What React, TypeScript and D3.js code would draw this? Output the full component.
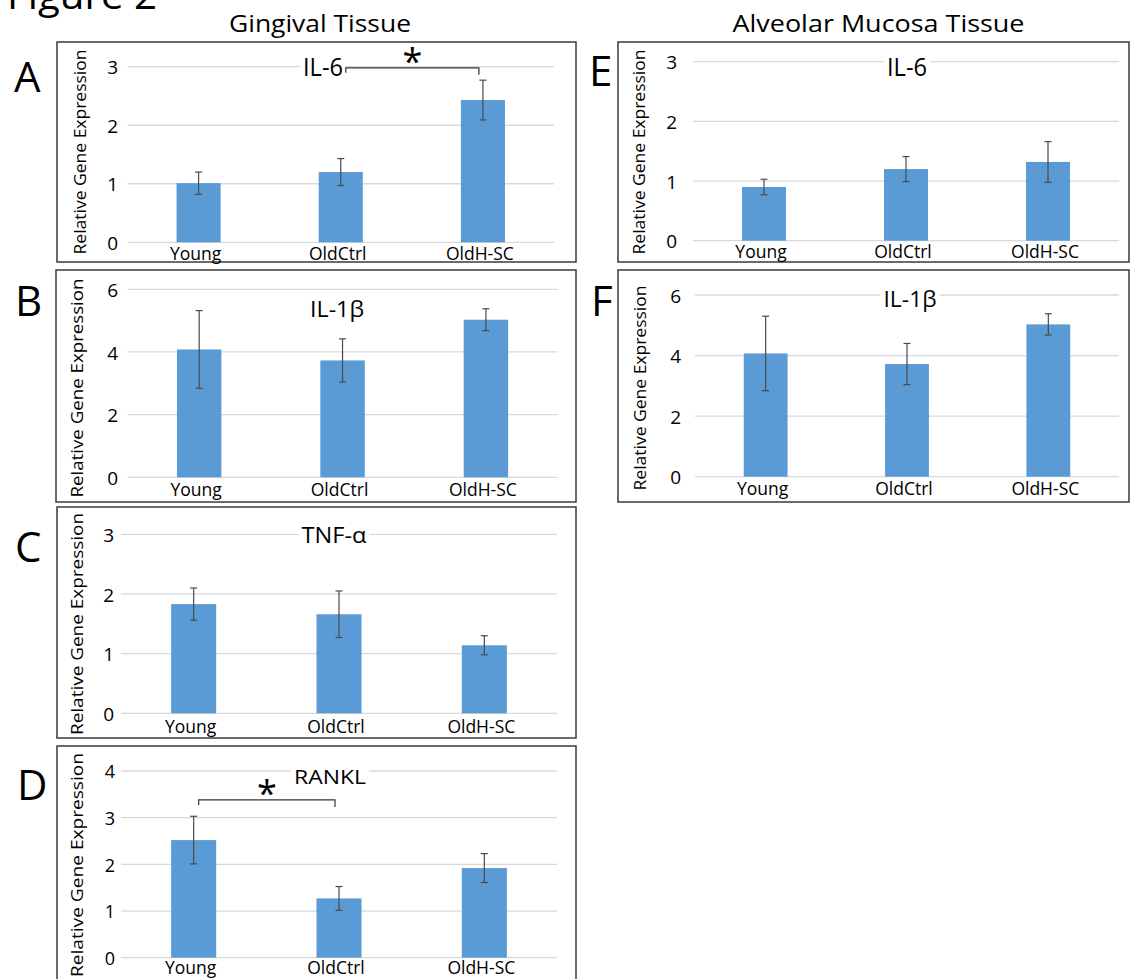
import React, { useEffect, useRef } from "react";
import * as d3 from "d3";

// ---------- data ----------
const categories = ["Young", "OldCtrl", "OldH-SC"];

const gingivalIL6 = [1.01, 1.2, 2.43];
const gingivalIL6Err = [0.19, 0.23, 0.34];
const gingivalIL1b = [4.08, 3.73, 5.03];
const gingivalIL1bErr = [1.24, 0.69, 0.35];
const gingivalTNFa = [1.83, 1.66, 1.14];
const gingivalTNFaErr = [0.27, 0.39, 0.16];
const gingivalRANKL = [2.52, 1.27, 1.92];
const gingivalRANKLErr = [0.51, 0.255, 0.31];
const alveolarIL6 = [0.9, 1.2, 1.32];
const alveolarIL6Err = [0.13, 0.21, 0.34];
const alveolarIL1b = [4.07, 3.72, 5.03];
const alveolarIL1bErr = [1.23, 0.68, 0.35];

const ticksIL6 = [0, 1, 2, 3];
const ticksIL1b = [0, 2, 4, 6];
const ticksTNF = [0, 1, 2, 3];
const ticksRANKL = [0, 1, 2, 3, 4];

const sectionTitles = ["Gingival Tissue", "Alveolar Mucosa Tissue"];
const figureTitle = "Figure 2";
const yAxisTitle = "Relative Gene Expression";
const sigIL6Gingival = { from: 1, to: 2, level: 2.98, mark: "*" };
const sigRANKL = { from: 0, to: 1, level: 3.38, mark: "*" };

const FONT = "'Open Sans', Lato, sans-serif";
const BAR = "#5B9BD5";
const INK = "#000";

type Panel = {
  letter: string;
  title: string;
  values: number[];
  errs: number[];
  ticks: number[];
  box: [number, number, number, number];
  plot: [number, number, number, number]; // x0, x1, yBase, yTop
  tickEnd: number;
  tickSize: number;
  labelBase: number;
  yTitle: [number, number, number];
  letterPos: [number, number];
  titlePos: [number, number, number, number]; // cx, baseline, size, len
  sig?: { from: number; to: number; level: number; mark: string };
};

const panels: Panel[] = [
  {
    letter: "A", title: "IL-6", values: gingivalIL6, errs: gingivalIL6Err, ticks: ticksIL6,
    box: [57, 42, 576, 262], plot: [127.5, 554, 242.3, 66.7], tickEnd: 118, tickSize: 19,
    labelBase: 260, yTitle: [80, 152, 205], letterPos: [14, 92], titlePos: [323, 76, 25, 40],
    sig: sigIL6Gingival,
  },
  {
    letter: "B", title: "IL-1β", values: gingivalIL1b, errs: gingivalIL1bErr, ticks: ticksIL1b,
    box: [56, 270, 576, 502], plot: [127.5, 557.6, 477.3, 289.3], tickEnd: 118, tickSize: 19,
    labelBase: 496, yTitle: [77, 388, 219], letterPos: [15, 316], titlePos: [337, 317, 22, 54],
  },
  {
    letter: "C", title: "TNF-α", values: gingivalTNFa, errs: gingivalTNFaErr, ticks: ticksTNF,
    box: [57, 507, 576, 738], plot: [121, 557, 713.3, 534.3], tickEnd: 114, tickSize: 19,
    labelBase: 733, yTitle: [77, 624, 222], letterPos: [15, 562], titlePos: [334, 543, 21, 65],
  },
  {
    letter: "D", title: "RANKL", values: gingivalRANKL, errs: gingivalRANKLErr, ticks: ticksRANKL,
    box: [57, 746, 576, 1000], plot: [121, 557, 957.7, 771], tickEnd: 115, tickSize: 18,
    labelBase: 974, yTitle: [77, 865, 224], letterPos: [17, 800], titlePos: [330, 784, 20, 72],
    sig: sigRANKL,
  },
  {
    letter: "E", title: "IL-6", values: alveolarIL6, errs: alveolarIL6Err, ticks: ticksIL6,
    box: [618, 42, 1129, 262], plot: [693, 1119, 240.7, 61.7], tickEnd: 677, tickSize: 19,
    labelBase: 258, yTitle: [639, 152, 205], letterPos: [589, 86], titlePos: [907, 76, 25, 40],
  },
  {
    letter: "F", title: "IL-1β", values: alveolarIL1b, errs: alveolarIL1bErr, ticks: ticksIL1b,
    box: [618, 270, 1129, 502], plot: [695, 1119, 476.7, 295], tickEnd: 681, tickSize: 19,
    labelBase: 495, yTitle: [640, 388, 205], letterPos: [591, 316], titlePos: [910, 307, 21, 53],
  },
];

export default function App() {
  const ref = useRef<SVGSVGElement | null>(null);

  useEffect(() => {
    const svg = d3.select(ref.current);
    svg.selectAll("*").remove();

    // figure title (cut at top edge, as in the reference)
    svg.append("text").attr("x", 157).attr("y", 9).attr("text-anchor", "end")
      .attr("font-family", FONT).attr("font-size", 38).attr("fill", INK)
      .attr("textLength", 150).attr("lengthAdjust", "spacingAndGlyphs").text(figureTitle);

    // section titles
    svg.append("text").attr("x", 320).attr("y", 32).attr("text-anchor", "middle")
      .attr("font-family", FONT).attr("font-size", 24).attr("fill", INK)
      .attr("textLength", 182).attr("lengthAdjust", "spacingAndGlyphs").text(sectionTitles[0]);
    svg.append("text").attr("x", 878.5).attr("y", 32).attr("text-anchor", "middle")
      .attr("font-family", FONT).attr("font-size", 24).attr("fill", INK)
      .attr("textLength", 292).attr("lengthAdjust", "spacingAndGlyphs").text(sectionTitles[1]);

    panels.forEach((p) => {
      const g = svg.append("g");
      const [bx0, by0, bx1, by1] = p.box;
      const [px0, px1, yBase, yTop] = p.plot;
      const x = d3.scaleBand<string>().domain(categories).range([px0, px1])
        .paddingInner(0.69).paddingOuter(0.345);
      const y = d3.scaleLinear().domain([0, p.ticks[p.ticks.length - 1]]).range([yBase, yTop]);

      // frame
      g.append("rect").attr("x", bx0).attr("y", by0).attr("width", bx1 - bx0).attr("height", by1 - by0)
        .attr("fill", "white").attr("stroke", "#3a3a3a").attr("stroke-width", 1.5);

      // gridlines
      g.selectAll(".grid").data(p.ticks).join("line")
        .attr("x1", px0).attr("x2", px1)
        .attr("y1", (d) => y(d)).attr("y2", (d) => y(d))
        .attr("stroke", "#d9d9d9").attr("stroke-width", 1.3);

      // tick labels
      g.selectAll(".tick").data(p.ticks).join("text")
        .attr("x", p.tickEnd).attr("y", (d) => y(d) + p.tickSize * 0.4)
        .attr("text-anchor", "end").attr("font-family", FONT).attr("font-size", p.tickSize)
        .attr("fill", INK).text((d) => String(d));

      // bars
      g.selectAll(".bar").data(p.values).join("rect")
        .attr("x", (_, i) => x(categories[i])!)
        .attr("width", x.bandwidth())
        .attr("y", (d) => y(d))
        .attr("height", (d) => yBase - y(d))
        .attr("fill", BAR);

      // error bars
      p.values.forEach((v, i) => {
        const cx = x(categories[i])! + x.bandwidth() / 2;
        const hi = y(v + p.errs[i]);
        const lo = y(v - p.errs[i]);
        const eg = g.append("g").attr("stroke", "#4a4a4a").attr("stroke-width", 1.2);
        eg.append("line").attr("x1", cx).attr("x2", cx).attr("y1", hi).attr("y2", lo);
        eg.append("line").attr("x1", cx - 3.5).attr("x2", cx + 3.5).attr("y1", hi).attr("y2", hi);
        eg.append("line").attr("x1", cx - 3.5).attr("x2", cx + 3.5).attr("y1", lo).attr("y2", lo);
      });

      // category labels
      g.selectAll(".cat").data(categories).join("text")
        .attr("x", (d) => x(d)! + x.bandwidth() / 2 - 3)
        .attr("y", p.labelBase).attr("text-anchor", "middle")
        .attr("font-family", FONT).attr("font-size", 17.5).attr("fill", INK).text((d) => d);

      // y axis title
      g.append("text")
        .attr("transform", `translate(${p.yTitle[0]},${p.yTitle[1]}) rotate(-90)`)
        .attr("text-anchor", "middle").attr("dominant-baseline", "central")
        .attr("font-family", FONT).attr("font-size", 16).attr("fill", INK)
        .attr("textLength", p.yTitle[2]).attr("lengthAdjust", "spacingAndGlyphs")
        .text(yAxisTitle);

      // panel letter
      g.append("text").attr("x", p.letterPos[0]).attr("y", p.letterPos[1])
        .attr("font-family", FONT).attr("font-size", 42).attr("fill", INK).text(p.letter);

      // chart title with white background
      const [tcx, tbase, tsize, tlen] = p.titlePos;
      g.append("rect").attr("x", tcx - tlen / 2 - 3).attr("y", tbase - tsize * 0.78)
        .attr("width", tlen + 6).attr("height", tsize * 0.85).attr("fill", "white");
      g.append("text").attr("x", tcx).attr("y", tbase).attr("text-anchor", "middle")
        .attr("font-family", FONT).attr("font-size", tsize).attr("fill", INK)
        .attr("textLength", tlen).attr("lengthAdjust", "spacingAndGlyphs").text(p.title);

      // significance bracket
      if (p.sig) {
        const s = p.sig;
        const xa = x(categories[s.from])! + x.bandwidth() / 2 + 5;
        const xb = x(categories[s.to])! + x.bandwidth() / 2 - 4;
        const yl = y(s.level);
        g.append("path")
          .attr("d", `M${xa},${yl + 5}V${yl}H${xb}V${yl + 7}`)
          .attr("fill", "none").attr("stroke", "#333").attr("stroke-width", 1.2);
        g.append("text").attr("x", (xa + xb) / 2).attr("y", yl + 6)
          .attr("text-anchor", "middle").attr("font-family", FONT).attr("font-size", 36)
          .attr("fill", INK).text(s.mark);
      }
    });
  }, []);

  return (
    <svg
      ref={ref}
      width={1132}
      height={979}
      style={{ position: "absolute", left: 0, top: 0, display: "block", background: "white" }}
    />
  );
}
